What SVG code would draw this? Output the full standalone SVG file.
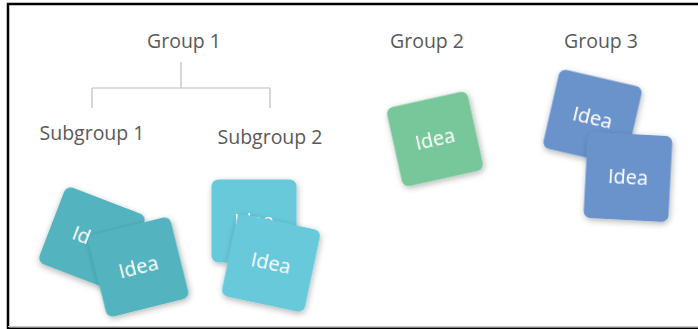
<svg xmlns="http://www.w3.org/2000/svg" width="698" height="329" viewBox="0 0 698 329">
<defs>
<filter id="sh" x="-30%" y="-30%" width="160%" height="160%">
<feGaussianBlur in="SourceAlpha" stdDeviation="3"/>
<feOffset dx="1" dy="2"/>
<feComponentTransfer><feFuncA type="linear" slope="0.3"/></feComponentTransfer>
<feMerge><feMergeNode/><feMergeNode in="SourceGraphic"/></feMerge>
</filter>
</defs>
<style>
.lbl{font-family:"Open Sans","Noto Sans",sans-serif;font-size:19.5px;fill:#595959;text-anchor:middle}
.idea{font-family:"Open Sans","Noto Sans",sans-serif;font-size:20px;fill:#ffffff;text-anchor:middle}
.card{filter:url(#sh)}
.teal{fill:#52b4c0}
.cyan{fill:#67c9da}
.green{fill:#78c79a}
.blue{fill:#6b93cc}
.conn{stroke:#bdbdbd;stroke-width:1.2;fill:none}
</style>
<rect x="0" y="0" width="698" height="329" fill="#ffffff"/>
<path d="M8,329 V4 H698" fill="none" stroke="#000" stroke-width="2.5"/>
<line x1="8" y1="326.5" x2="698" y2="326.5" stroke="#c8c8c8" stroke-width="1"/>
<line x1="8" y1="328.5" x2="698" y2="328.5" stroke="#000" stroke-width="2"/>

<g id="connectors">
<path class="conn" d="M181,62 V88 M92,88 H270 M92,88 V108 M270,88 V108"/>
</g>

<g id="group1"><text class="lbl" x="184" y="48">Group 1</text></g>
<g id="subgroup1"><text class="lbl" x="92" y="140">Subgroup 1</text></g>
<g id="subgroup2"><text class="lbl" x="270" y="144">Subgroup 2</text></g>
<g id="group2"><text class="lbl" x="427" y="48">Group 2</text></g>
<g id="group3"><text class="lbl" x="601" y="48">Group 3</text></g>

<g id="idea-s1a" class="card" transform="translate(92,239) rotate(21)">
<rect class="teal" x="-43" y="-41" width="86" height="82" rx="7"/>
<text class="idea" x="0" y="7">Idea</text>
</g>
<g id="idea-s1b" class="card" transform="translate(138.5,267) rotate(-14)">
<rect class="teal" x="-42.5" y="-42" width="85" height="84" rx="7"/>
<text class="idea" x="0" y="7">Idea</text>
</g>

<g id="idea-s2a" class="card" transform="translate(254,221)">
<rect class="cyan" x="-42.5" y="-41.5" width="85" height="83" rx="7"/>
<text class="idea" x="0" y="7">Idea</text>
</g>
<g id="idea-s2b" class="card" transform="translate(271,263) rotate(12)">
<rect class="cyan" x="-42.5" y="-42" width="85" height="84" rx="7"/>
<text class="idea" x="0" y="7">Idea</text>
</g>

<g id="idea-g2" class="card" transform="translate(435,139) rotate(-12.5)">
<rect class="green" x="-41.5" y="-40.5" width="83" height="81" rx="7"/>
<text class="idea" x="0" y="7">Idea</text>
</g>

<g id="idea-g3a" class="card" transform="translate(592.5,117.5) rotate(13)">
<rect class="blue" x="-42.5" y="-40.5" width="85" height="81" rx="7"/>
<text class="idea" x="0" y="7">Idea</text>
</g>
<g id="idea-g3b" class="card" transform="translate(628,177) rotate(3)">
<rect class="blue" x="-42.5" y="-43" width="85" height="86" rx="7"/>
<text class="idea" x="0" y="7">Idea</text>
</g>
</svg>
